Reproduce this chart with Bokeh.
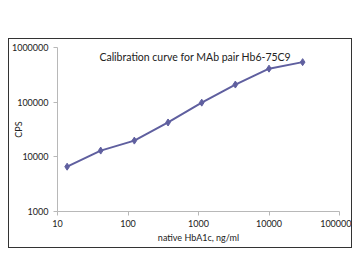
from bokeh.plotting import figure
from bokeh.models import FixedTicker, Label
from bokeh.embed import file_html
from bokeh.resources import INLINE

title_text = "Calibration curve for MAb pair Hb6-75C9"
x_label = "native HbA1c, ng/ml"
y_label = "CPS"

concentration = [13.7, 41, 123, 370, 1111, 3333, 10000, 30000]
cps = [6600, 13000, 19800, 42500, 98000, 210000, 410000, 540000]

x_ticks = [10, 100, 1000, 10000, 100000]
x_tick_labels = ["10", "100", "1000", "10000", "100000"]
y_ticks = [1000, 10000, 100000, 1000000]
y_tick_labels = ["1000", "10000", "100000", "1000000"]

FONT = "Lato"
LINE_COLOR = "#5f5f9f"
AXIS_COLOR = "#b8b8b8"
TEXT_COLOR = "#222222"

p = figure(width=344, height=210, x_axis_type="log", y_axis_type="log",
           x_range=(10, 100000), y_range=(1000, 1000000),
           output_backend="svg", toolbar_location=None,
           min_border_left=44, min_border_right=14, min_border_top=8, min_border_bottom=38,
           styles={"border": "1.5px solid #333333", "margin-top": "38px", "margin-left": "8px"})
p.outline_line_color = None
p.background_fill_color = "white"
p.border_fill_color = "white"
p.grid.visible = False

p.line(concentration, cps, line_color=LINE_COLOR, line_width=2)
p.scatter(concentration, cps, marker="diamond", size=7, fill_color=LINE_COLOR,
          line_color=LINE_COLOR)

for ax, ticks, labels in ((p.xaxis[0], x_ticks, x_tick_labels), (p.yaxis[0], y_ticks, y_tick_labels)):
    ax.ticker = FixedTicker(ticks=ticks, minor_ticks=[])
    ax.major_label_overrides = dict(zip(ticks, labels))
    ax.axis_line_color = AXIS_COLOR
    ax.major_tick_line_color = AXIS_COLOR
    ax.major_tick_out = 4
    ax.major_tick_in = 0
    ax.minor_tick_line_color = None
    ax.major_label_text_font = FONT
    ax.major_label_text_font_size = "9px"
    ax.major_label_text_color = TEXT_COLOR
    ax.axis_label_text_font = FONT
    ax.axis_label_text_font_size = "9px"
    ax.axis_label_text_font_style = "normal"
    ax.axis_label_text_color = TEXT_COLOR

p.xaxis.axis_label = x_label
p.xaxis.major_label_standoff = 4
p.xaxis.axis_label_standoff = 2
p.yaxis.axis_label = y_label
p.yaxis.major_label_standoff = 5
p.yaxis.axis_label_standoff = -15

p.add_layout(Label(x=900, y=680000, text=title_text, text_align="center",
                   text_baseline="middle", text_font=FONT, text_font_size="10.5px",
                   text_color=TEXT_COLOR))

open("out.html", "w").write(file_html(p, INLINE))
